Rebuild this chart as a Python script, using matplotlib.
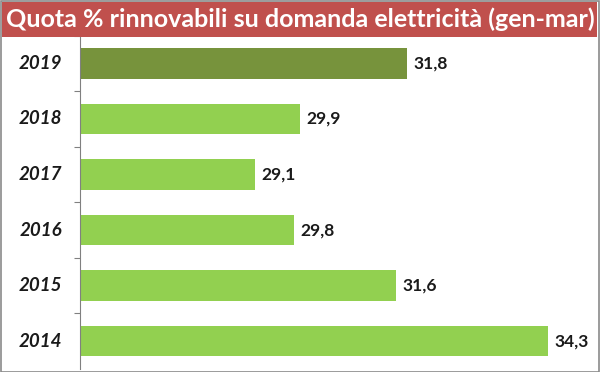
import matplotlib.pyplot as plt
from matplotlib.patches import Rectangle

years = ["2019", "2018", "2017", "2016", "2015", "2014"]
quota = [31.8, 29.9, 29.1, 29.8, 31.6, 34.3]
labels = ["31,8", "29,9", "29,1", "29,8", "31,6", "34,3"]
title = "Quota % rinnovabili su domanda elettricità (gen-mar)"

plt.rcParams['font.family'] = ['Lato', 'DejaVu Sans']

fig = plt.figure(figsize=(6, 3.72), dpi=100)
W, H = 600, 372
ax = fig.add_axes([80/W, 1-369/H, (597-80)/W, (369-35.5)/H])

pos = list(range(len(years)))
xmin = 26.0
colors = ['#77933C'] + ['#92D050'] * (len(years) - 1)
ax.barh(pos, [q - xmin for q in quota], left=xmin, height=0.55, color=colors)
ax.set_xlim(xmin, xmin + (597-80)/56.4)
ax.set_ylim(len(years) - 0.5, -0.5)

for p, q, l in zip(pos, quota, labels):
    ax.text(q + 0.11, p, l, va='center', ha='left', fontsize=12.5, fontweight='bold', color='#1a1a1a')

ax.set_yticks([p + 0.5 for p in pos[:-1]] + [-0.5])
ax.set_yticklabels([])
ax.tick_params(axis='y', length=4, color='#808080', width=0.8)
for p, y in zip(pos, years):
    ax.text(-0.035, p, y, transform=ax.get_yaxis_transform(), ha='right', va='center',
            fontsize=13.5, fontweight='bold', fontstyle='italic', color='#1a1a1a')
ax.set_xticks([])
for s in ['top', 'right', 'bottom']:
    ax.spines[s].set_visible(False)
ax.spines['left'].set_color('#808080')
ax.spines['left'].set_linewidth(0.8)

# title bar
fig.patches.append(Rectangle((2/W, 1-37/H), 595/W, 35/H, transform=fig.transFigure,
                             facecolor='#C0504D', edgecolor='none', zorder=0))
fig.text(300/W, 1-19.5/H, title, ha='center', va='center', color='white',
         fontsize=18, fontweight='bold')
# frame
fig.patches.append(Rectangle((0.5/W, 0.5/H), 598.5/W, 370.5/H, transform=fig.transFigure,
                             facecolor='none', edgecolor='#8a8a8a', linewidth=1.2))

fig.savefig("out.png", dpi=100)
